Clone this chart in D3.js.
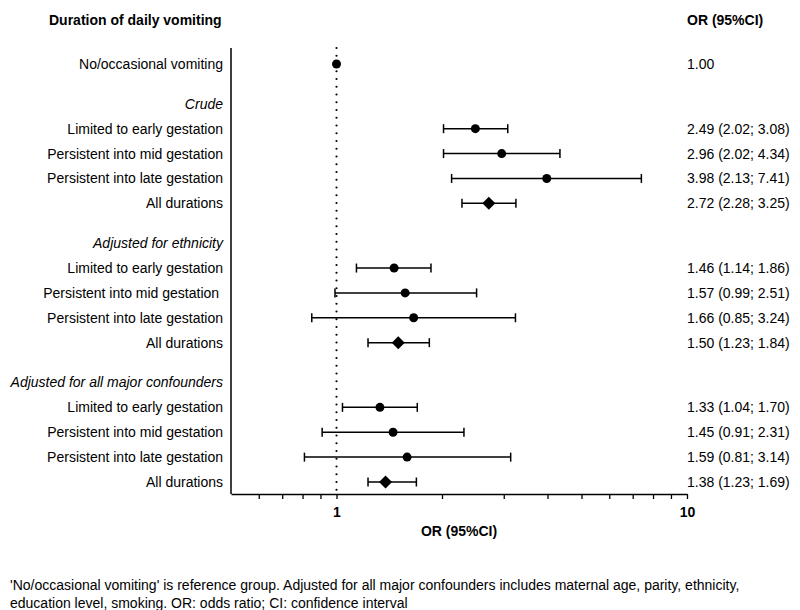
<!DOCTYPE html>
<html>
<head>
<meta charset="utf-8">
<script src="https://cdn.jsdelivr.net/npm/d3@7"></script>
<style>
  html, body { margin: 0; padding: 0; background: #fff; }
  svg { display: block; }
  text { font-family: "Liberation Sans", Arial, sans-serif; fill: #000; white-space: pre; }
</style>
</head>
<body>
<svg id="chart" width="800" height="610"></svg>
<script>
// ---------- data ----------
const rowLabels = [
  "No/occasional vomiting",
  "Crude",
  "Limited to early gestation",
  "Persistent into mid gestation",
  "Persistent into late gestation",
  "All durations",
  "Adjusted for ethnicity",
  "Limited to early gestation",
  "Persistent into mid gestation ",
  "Persistent into late gestation",
  "All durations",
  "Adjusted for all major confounders",
  "Limited to early gestation",
  "Persistent into mid gestation",
  "Persistent into late gestation",
  "All durations"
];
const rowTypes = ["ref","header","point","point","point","pooled",
                  "header","point","point","point","pooled",
                  "header","point","point","point","pooled"];
const orValues = [1.00, null, 2.49, 2.96, 3.98, 2.72, null, 1.46, 1.57, 1.66, 1.50, null, 1.33, 1.45, 1.59, 1.38];
const lowerCI  = [null, null, 2.02, 2.02, 2.13, 2.28, null, 1.14, 0.99, 0.85, 1.23, null, 1.04, 0.91, 0.81, 1.23];
const upperCI  = [null, null, 3.08, 4.34, 7.41, 3.25, null, 1.86, 2.51, 3.24, 1.84, null, 1.70, 2.31, 3.14, 1.69];
const axisTicks = [0.6, 0.7, 0.8, 0.9, 1, 2, 3, 4, 5, 6, 7, 8, 9, 10];
const axisLabelled = [1, 10];
const axisDomain = [0.5, 10];
const titleLeft = "Duration of daily vomiting";
const titleRight = "OR (95%CI)";
const axisTitle = "OR (95%CI)";
const footnote = [
  "'No/occasional vomiting' is reference group. Adjusted for all major confounders includes maternal age, parity, ethnicity,",
  "education level, smoking. OR: odds ratio; CI: confidence interval"
];

// ---------- layout ----------
const svg = d3.select("#chart");
const f2 = d3.format(".2f");

// slot positions: headers get an extra 0.6 gap before them
const slots = [];
let s = 0;
rowTypes.forEach((t, i) => {
  if (i > 0) s += 1 + (t === "header" ? 0.6 : 0);
  slots.push(s);
});
const rows = rowLabels.map((label, i) => ({
  label, type: rowTypes[i], or: orValues[i], lo: lowerCI[i], hi: upperCI[i], slot: slots[i]
}));

const x = d3.scaleLog().domain(axisDomain).range([231, 687]);
const y = d3.scaleLinear().domain([0, d3.max(slots)]).range([64, 482]);
const axisY = 494, topY = 48;

// titles
svg.append("text").attr("x", 49).attr("y", 25)
  .attr("font-size", 14).attr("font-weight", "bold").text(titleLeft);
svg.append("text").attr("x", 687).attr("y", 25)
  .attr("font-size", 14).attr("font-weight", "bold").text(titleRight);

// reference dotted line
svg.append("line")
  .attr("x1", x(1)).attr("x2", x(1)).attr("y1", topY).attr("y2", axisY)
  .attr("stroke", "#000").attr("stroke-width", 2.2)
  .attr("stroke-linecap", "round").attr("stroke-dasharray", "0,7.75");

// left vertical axis line
svg.append("line")
  .attr("x1", x.range()[0]).attr("x2", x.range()[0]).attr("y1", topY).attr("y2", axisY)
  .attr("stroke", "#000").attr("stroke-width", 1.5);

// bottom axis
const axis = d3.axisBottom(x)
  .tickValues(axisTicks)
  .tickSize(5)
  .tickSizeOuter(0)
  .tickPadding(8)
  .tickFormat(d => axisLabelled.includes(d) ? d3.format("d")(d) : "");
const ag = svg.append("g").attr("transform", `translate(0,${axisY})`).call(axis);
ag.select(".domain").attr("stroke", "#000").attr("stroke-width", 1.5);
ag.selectAll(".tick line").attr("stroke", "#000").attr("stroke-width", 1.3);
ag.selectAll(".tick text")
  .attr("font-family", "Liberation Sans, Arial, sans-serif")
  .attr("font-size", 14).attr("font-weight", "bold").attr("fill", "#000");

svg.append("text").attr("x", (x.range()[0] + x.range()[1]) / 2).attr("y", 536)
  .attr("text-anchor", "middle").attr("font-size", 14).attr("font-weight", "bold")
  .text(axisTitle);

// row labels
svg.selectAll("text.rowlabel").data(rows).join("text")
  .attr("class", "rowlabel")
  .attr("x", 223).attr("y", d => y(d.slot) + 5)
  .attr("text-anchor", "end").attr("font-size", 14)
  .attr("font-style", d => d.type === "header" ? "italic" : "normal")
  .text(d => d.label);

// values text
svg.selectAll("text.vals").data(rows.filter(d => d.or != null)).join("text")
  .attr("class", "vals")
  .attr("x", 687).attr("y", d => y(d.slot) + 5)
  .attr("font-size", 14)
  .text(d => d.lo == null ? f2(d.or) : `${f2(d.or)} (${f2(d.lo)}; ${f2(d.hi)})`);

// CI lines
const ci = rows.filter(d => d.lo != null);
const g = svg.append("g");
g.selectAll("line.ci").data(ci).join("line")
  .attr("x1", d => x(d.lo)).attr("x2", d => x(d.hi))
  .attr("y1", d => y(d.slot)).attr("y2", d => y(d.slot))
  .attr("stroke", "#000").attr("stroke-width", 1.5);
["lo", "hi"].forEach(k => {
  g.selectAll("line.cap" + k).data(ci).join("line")
    .attr("x1", d => x(d[k])).attr("x2", d => x(d[k]))
    .attr("y1", d => y(d.slot) - 4.5).attr("y2", d => y(d.slot) + 4.5)
    .attr("stroke", "#000").attr("stroke-width", 1.5);
});

// markers
g.selectAll("circle.pt").data(rows.filter(d => d.type === "point" || d.type === "ref")).join("circle")
  .attr("cx", d => x(d.or)).attr("cy", d => y(d.slot)).attr("r", 4.5).attr("fill", "#000");
g.selectAll("path.dm").data(rows.filter(d => d.type === "pooled")).join("path")
  .attr("d", d => {
    const cx = x(d.or), cy = y(d.slot), h = 6.5;
    return `M${cx},${cy - h}L${cx + h},${cy}L${cx},${cy + h}L${cx - h},${cy}Z`;
  })
  .attr("fill", "#000");

// footnote
svg.selectAll("text.foot").data(footnote).join("text")
  .attr("class", "foot")
  .attr("x", 10).attr("y", (d, i) => 590 + i * 18)
  .attr("font-size", 14)
  .text(d => d);
</script>
</body>
</html>
